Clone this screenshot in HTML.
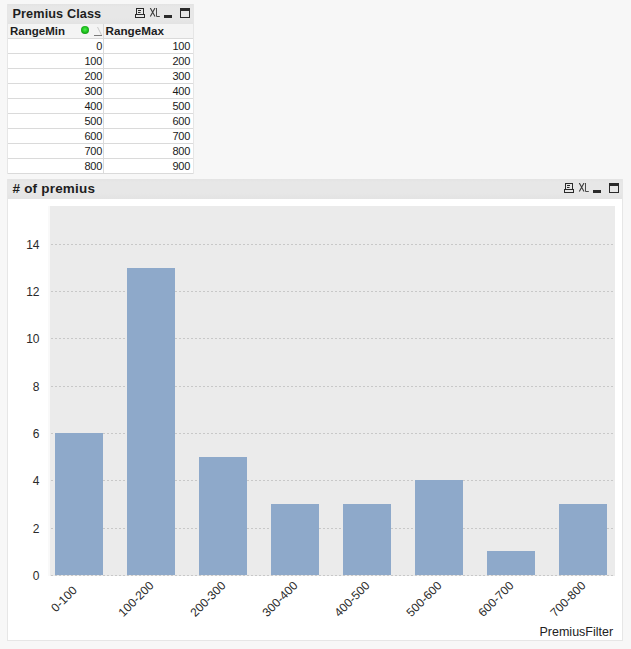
<!DOCTYPE html>
<html><head><meta charset="utf-8"><style>
*{margin:0;padding:0;box-sizing:border-box}
html,body{width:631px;height:649px;overflow:hidden;background:#f7f7f7;font-family:"Liberation Sans",sans-serif}
.abs{position:absolute}
.panel{position:absolute;background:#fff;border:1px solid #e6e6e6}
.cap{position:absolute;background:linear-gradient(#e3e3e3,#e7e7e7 15%,#e7e7e7 70%,#e3e3e3)}
.ct{position:absolute;font-weight:bold;color:#1e1e1e;white-space:nowrap;line-height:1}
.hl{position:absolute;height:1px;background:#dadada}
.vl{position:absolute;width:1px;background:#dadada}
.num{position:absolute;font-size:11px;letter-spacing:-0.3px;color:#1a1a1a;line-height:1;white-space:nowrap;text-align:right}
.yl{position:absolute;font-size:12px;color:#2a2a2a;line-height:1;text-align:right;width:30px}
.bar{position:absolute;background:#8ea9ca}
.grid{position:absolute;height:1px;background-image:linear-gradient(90deg,#c8c8c8 50%,transparent 50%);background-size:4px 1px;background-position:1px 0}
.xl{position:absolute;font-size:12px;color:#2a2a2a;line-height:12px;height:12px;width:80px;text-align:center;white-space:nowrap;transform:rotate(-45deg)}
</style></head><body>

<div class="panel" style="left:7px;top:4px;width:187px;height:170px"></div>
<div class="cap" style="left:8px;top:4px;width:185px;height:20px"></div>
<div class="abs" style="left:8px;top:24px;width:185px;height:14px;background:#f4f4f4"></div>
<div class="ct" style="left:12.5px;top:7.5px;font-size:12.7px;letter-spacing:0.1px">Premius Class</div>
<div class="ct" style="left:10px;top:26px;font-size:11.5px">RangeMin</div>
<div class="ct" style="left:105.5px;top:25px;font-size:11.7px">RangeMax</div>
<div class="abs" style="left:81px;top:26px;width:8px;height:8px;border-radius:50%;background:radial-gradient(circle at 50% 45%,#4ef04e,#1fc21f 45%,#0b7a0b 95%)"></div>
<svg class="abs" style="left:92px;top:25px" width="11" height="12"><path d="M5.5 2 L9.5 10" stroke="#c8c8c8" stroke-width="1" fill="none"/><path d="M2 10.5 H10" stroke="#7a7a7a" stroke-width="1"/></svg>
<div class="hl" style="left:8px;top:38px;width:185px"></div>
<div class="hl" style="left:8px;top:53px;width:185px"></div>
<div class="hl" style="left:8px;top:68px;width:185px"></div>
<div class="hl" style="left:8px;top:83px;width:185px"></div>
<div class="hl" style="left:8px;top:98px;width:185px"></div>
<div class="hl" style="left:8px;top:113px;width:185px"></div>
<div class="hl" style="left:8px;top:128px;width:185px"></div>
<div class="hl" style="left:8px;top:143px;width:185px"></div>
<div class="hl" style="left:8px;top:158px;width:185px"></div>
<div class="hl" style="left:8px;top:173px;width:185px"></div>
<div class="vl" style="left:103px;top:24px;height:150px"></div>
<div class="num" style="right:529px;top:41px">0</div>
<div class="num" style="right:441px;top:41px">100</div>
<div class="num" style="right:529px;top:56px">100</div>
<div class="num" style="right:441px;top:56px">200</div>
<div class="num" style="right:529px;top:71px">200</div>
<div class="num" style="right:441px;top:71px">300</div>
<div class="num" style="right:529px;top:86px">300</div>
<div class="num" style="right:441px;top:86px">400</div>
<div class="num" style="right:529px;top:101px">400</div>
<div class="num" style="right:441px;top:101px">500</div>
<div class="num" style="right:529px;top:116px">500</div>
<div class="num" style="right:441px;top:116px">600</div>
<div class="num" style="right:529px;top:131px">600</div>
<div class="num" style="right:441px;top:131px">700</div>
<div class="num" style="right:529px;top:146px">700</div>
<div class="num" style="right:441px;top:146px">800</div>
<div class="num" style="right:529px;top:161px">800</div>
<div class="num" style="right:441px;top:161px">900</div>
<svg class="abs" style="left:135px;top:8px" width="60" height="12"><rect x="1.5" y="0.5" width="7" height="6" fill="none" stroke="#2a2a2a"/><path d="M3 2.5H6M3 4.5H5.5" stroke="#2a2a2a"/><rect x="0.5" y="6.5" width="9" height="3" fill="none" stroke="#2a2a2a"/><path d="M15.3 0 L20 8.6 M20 0 L15.3 8.6" stroke="#3c3c3c" stroke-width="1.1" fill="none"/><path d="M21.5 -0.5 V8.5 H24.8" stroke="#4a4a4a" stroke-width="1" fill="none"/><rect x="29" y="7" width="8" height="3" fill="#2a2a2a"/><rect x="45.5" y="0.5" width="9" height="9" fill="none" stroke="#2a2a2a"/><rect x="45" y="0" width="10" height="3" fill="#2a2a2a"/></svg>
<div class="panel" style="left:7px;top:179px;width:616px;height:462px"></div>
<div class="cap" style="left:8px;top:179px;width:614px;height:20px"></div>
<div class="ct" style="left:12.5px;top:182px;font-size:13.5px;letter-spacing:0.2px"># of premius</div>
<svg class="abs" style="left:564px;top:183px" width="60" height="12"><rect x="1.5" y="0.5" width="7" height="6" fill="none" stroke="#2a2a2a"/><path d="M3 2.5H6M3 4.5H5.5" stroke="#2a2a2a"/><rect x="0.5" y="6.5" width="9" height="3" fill="none" stroke="#2a2a2a"/><path d="M15.3 0 L20 8.6 M20 0 L15.3 8.6" stroke="#3c3c3c" stroke-width="1.1" fill="none"/><path d="M21.5 -0.5 V8.5 H24.8" stroke="#4a4a4a" stroke-width="1" fill="none"/><rect x="29" y="7" width="8" height="3" fill="#2a2a2a"/><rect x="45.5" y="0.5" width="9" height="9" fill="none" stroke="#2a2a2a"/><rect x="45" y="0" width="10" height="3" fill="#2a2a2a"/></svg>
<div class="abs" style="left:48px;top:206px;width:2px;height:370px;background:#f9f9f9"></div>
<div class="abs" style="left:50px;top:206px;width:565px;height:370px;background:#ebebeb"></div>
<div class="grid" style="left:50px;top:575px;width:565px"></div>
<div class="yl" style="left:9.5px;top:570px">0</div>
<div class="grid" style="left:50px;top:528px;width:565px"></div>
<div class="yl" style="left:9.5px;top:523px">2</div>
<div class="grid" style="left:50px;top:480px;width:565px"></div>
<div class="yl" style="left:9.5px;top:475px">4</div>
<div class="grid" style="left:50px;top:433px;width:565px"></div>
<div class="yl" style="left:9.5px;top:428px">6</div>
<div class="grid" style="left:50px;top:386px;width:565px"></div>
<div class="yl" style="left:9.5px;top:381px">8</div>
<div class="grid" style="left:50px;top:338px;width:565px"></div>
<div class="yl" style="left:9.5px;top:333px">10</div>
<div class="grid" style="left:50px;top:291px;width:565px"></div>
<div class="yl" style="left:9.5px;top:286px">12</div>
<div class="grid" style="left:50px;top:244px;width:565px"></div>
<div class="yl" style="left:9.5px;top:239px">14</div>
<div class="bar" style="left:55px;top:433px;width:48px;height:142px"></div>
<div class="bar" style="left:127px;top:268px;width:48px;height:307px"></div>
<div class="bar" style="left:199px;top:457px;width:48px;height:118px"></div>
<div class="bar" style="left:271px;top:504px;width:48px;height:71px"></div>
<div class="bar" style="left:343px;top:504px;width:48px;height:71px"></div>
<div class="bar" style="left:415px;top:480px;width:48px;height:95px"></div>
<div class="bar" style="left:487px;top:551px;width:48px;height:24px"></div>
<div class="bar" style="left:559px;top:504px;width:48px;height:71px"></div>
<div class="xl" style="left:24.3px;top:592.8px">0-100</div>
<div class="xl" style="left:96.3px;top:592.8px">100-200</div>
<div class="xl" style="left:168.3px;top:592.8px">200-300</div>
<div class="xl" style="left:240.3px;top:592.8px">300-400</div>
<div class="xl" style="left:312.3px;top:592.8px">400-500</div>
<div class="xl" style="left:384.3px;top:592.8px">500-600</div>
<div class="xl" style="left:456.3px;top:592.8px">600-700</div>
<div class="xl" style="left:528.3px;top:592.8px">700-800</div>
<div class="abs" style="left:539.5px;top:626px;font-size:12.5px;color:#222;line-height:1;white-space:nowrap">PremiusFilter</div>
</body></html>
